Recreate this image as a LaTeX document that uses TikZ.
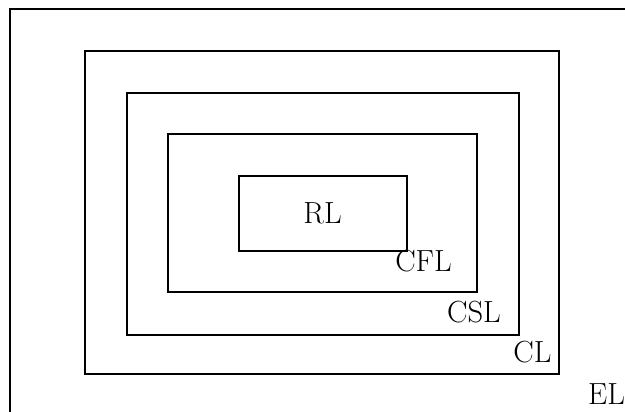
\documentclass[tikz,border=0pt]{standalone}
\usetikzlibrary{positioning}
\tikzset{
  layer/.style={draw=black, line width=1.2pt},
  lbl/.style={inner sep=0pt, font=\fontsize{17.4pt}{20pt}\selectfont}
}
\begin{document}
\begin{tikzpicture}[x=0.02cm, y=-0.02cm]
\useasboundingbox (0,0) rectangle (625,412);

% ---------------- Nested layers ----------------
\begin{scope}
  \clip (0,0) rectangle (625,412);
  \draw[layer] (10,9) rectangle (660,440);
\end{scope}
\draw[layer] (85,51) rectangle (559,374);
\draw[layer] (127,93) rectangle (519,335);
\draw[layer] (168,134) rectangle (477,292);
\draw[layer] (239,176) rectangle (407,251);

% ---------------- Labels ----------------
\node[lbl] (rl)  at (322.5,213.5) {RL};
\node[lbl] (cfl) at (423.5,261)   {CFL};
\node[lbl] (csl) at (474,312)     {CSL};
\node[lbl] (cl)  at (532.5,352.5) {CL};
\node[lbl] (el)  at (606.5,394)   {EL};

\end{tikzpicture}
\end{document}
